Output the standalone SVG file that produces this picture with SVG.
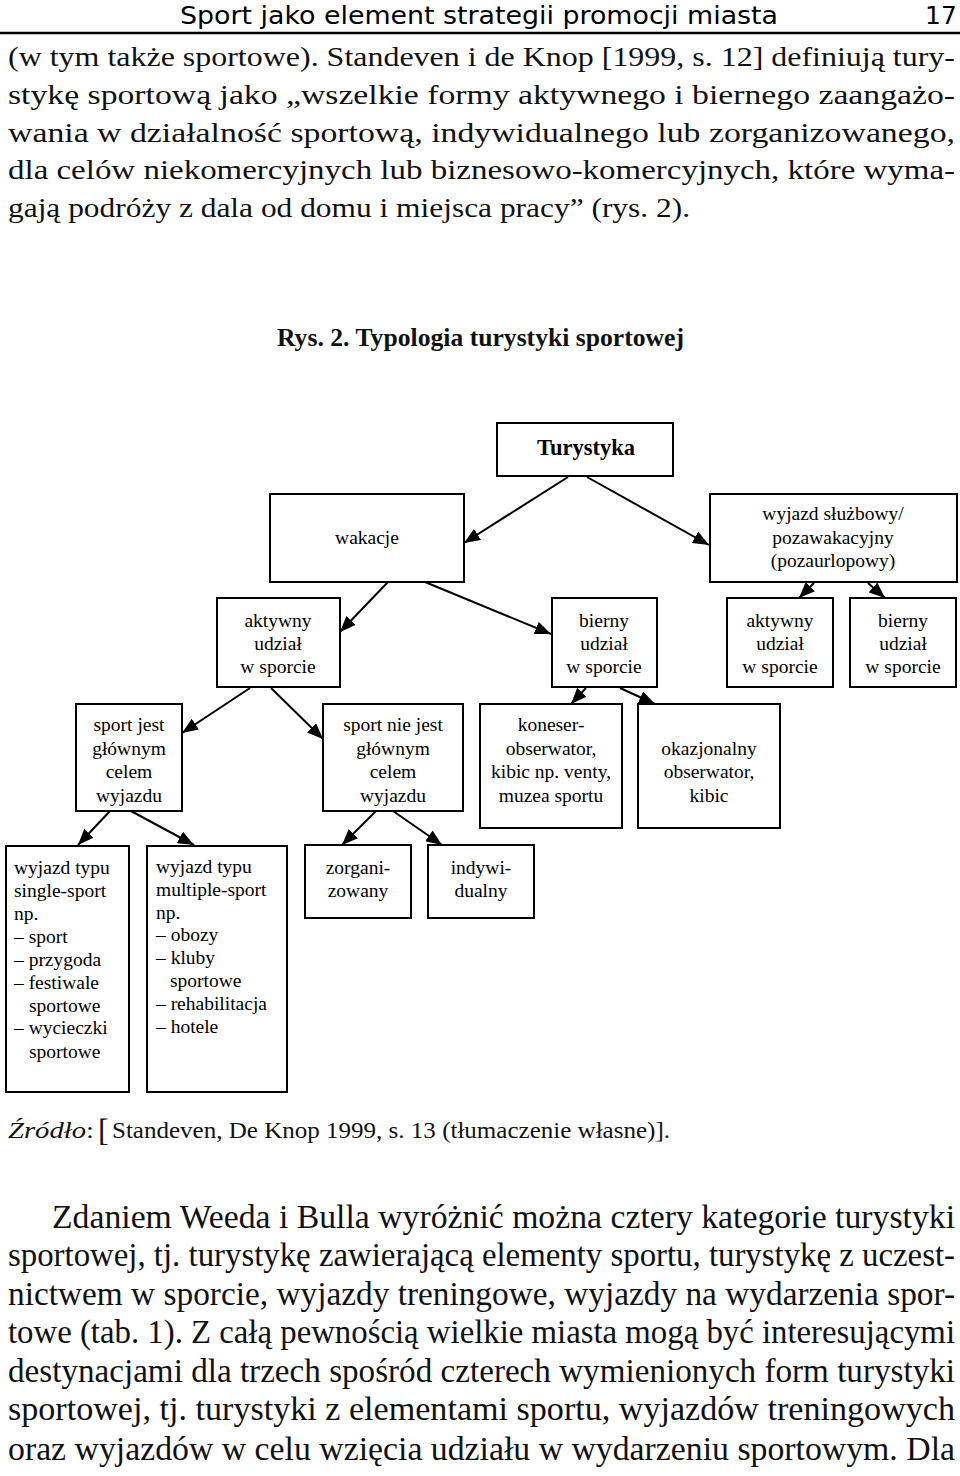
<svg xmlns="http://www.w3.org/2000/svg" width="960" height="1476" viewBox="0 0 960 1476">
<defs>
<marker id="ah" markerUnits="userSpaceOnUse" markerWidth="16" markerHeight="13" viewBox="0 0 16 13" refX="16" refY="6.5" orient="auto"><path d="M0,0 L16,6.5 L0,13 z" fill="#000"/></marker>
<style>
.hd{font-family:"DejaVu Sans",sans-serif;font-size:25px;fill:#000}
.bt{font-family:"Liberation Serif",serif;font-size:27px;fill:#111}
.bb{font-family:"Liberation Serif",serif;font-size:33px;fill:#111}
.tt{font-family:"Liberation Serif",serif;font-size:25px;font-weight:bold;fill:#111}
.src{font-family:"Liberation Serif",serif;font-size:24px;fill:#111}
.box{fill:#fff;stroke:#000;stroke-width:2}
.n{font-family:"Liberation Serif",serif;font-size:19.5px;fill:#000;text-anchor:middle}
.l{font-family:"Liberation Serif",serif;font-size:19.5px;fill:#000}
.c line{stroke:#000;stroke-width:2;marker-end:url(#ah)}
</style>
</defs>
<rect width="960" height="1476" fill="#fff"/>
<text class="hd" x="180" y="24" textLength="598" lengthAdjust="spacingAndGlyphs">Sport jako element strategii promocji miasta</text>
<text class="hd" x="925" y="24">17</text>
<line x1="0" y1="33" x2="960" y2="33" stroke="#000" stroke-width="2.5"/>
<g id="para1">
<text class="bt" x="8" y="66" textLength="947" lengthAdjust="spacingAndGlyphs">(w tym także sportowe). Standeven i de Knop [1999, s. 12] definiują tury-</text>
<text class="bt" x="8" y="104" textLength="947" lengthAdjust="spacingAndGlyphs">stykę sportową jako „wszelkie formy aktywnego i biernego zaangażo-</text>
<text class="bt" x="8" y="142" textLength="947" lengthAdjust="spacingAndGlyphs">wania w działalność sportową, indywidualnego lub zorganizowanego,</text>
<text class="bt" x="8" y="179" textLength="947" lengthAdjust="spacingAndGlyphs">dla celów niekomercyjnych lub biznesowo-komercyjnych, które wyma-</text>
<text class="bt" x="8" y="217" textLength="682" lengthAdjust="spacingAndGlyphs">gają podróży z dala od domu i miejsca pracy” (rys. 2).</text>
</g>
<text class="tt" x="277" y="346" textLength="407" lengthAdjust="spacingAndGlyphs">Rys. 2. Typologia turystyki sportowej</text>
<g class="c" id="connectors">
<line x1="568" y1="477" x2="464" y2="543"/>
<line x1="587" y1="477" x2="709" y2="545"/>
<line x1="388" y1="582" x2="340" y2="632"/>
<line x1="425" y1="582" x2="551" y2="634"/>
<line x1="814" y1="583" x2="799" y2="598"/>
<line x1="868" y1="583" x2="885" y2="598"/>
<line x1="586" y1="688" x2="571" y2="704"/>
<line x1="620" y1="688" x2="655" y2="704"/>
<line x1="250" y1="688" x2="182" y2="733"/>
<line x1="271" y1="688" x2="323" y2="739"/>
<line x1="110" y1="811" x2="78" y2="845"/>
<line x1="131" y1="811" x2="194" y2="845"/>
<line x1="376" y1="811" x2="342" y2="845"/>
<line x1="393" y1="811" x2="442" y2="845"/>
</g>
<g id="turystyka"><rect class="box" x="497" y="423" width="176" height="53"/><text class="n" x="586" y="455" style="font-size:22.5px;font-weight:bold">Turystyka</text></g>
<g id="wakacje"><rect class="box" x="270" y="494" width="194" height="88"/><text class="n" x="367" y="544">wakacje</text></g>
<g id="wyjazd-sluzbowy"><rect class="box" x="710" y="494" width="247" height="88"/><text class="n" x="833" y="520">wyjazd służbowy/</text><text class="n" x="833" y="544">pozawakacyjny</text><text class="n" x="833" y="567">(pozaurlopowy)</text></g>
<g id="aktywny1"><rect class="box" x="217" y="598" width="123" height="89"/><text class="n" x="278" y="627">aktywny</text><text class="n" x="278" y="650">udział</text><text class="n" x="278" y="673">w sporcie</text></g>
<g id="bierny1"><rect class="box" x="552" y="598" width="105" height="89"/><text class="n" x="604" y="627">bierny</text><text class="n" x="604" y="650">udział</text><text class="n" x="604" y="673">w sporcie</text></g>
<g id="aktywny2"><rect class="box" x="727" y="598" width="106" height="89"/><text class="n" x="780" y="627">aktywny</text><text class="n" x="780" y="650">udział</text><text class="n" x="780" y="673">w sporcie</text></g>
<g id="bierny2"><rect class="box" x="850" y="598" width="106" height="89"/><text class="n" x="903" y="627">bierny</text><text class="n" x="903" y="650">udział</text><text class="n" x="903" y="673">w sporcie</text></g>
<g id="sport-jest"><rect class="box" x="76" y="704" width="106" height="107"/><text class="n" x="129" y="731">sport jest</text><text class="n" x="129" y="755">głównym</text><text class="n" x="129" y="778">celem</text><text class="n" x="129" y="802">wyjazdu</text></g>
<g id="sport-nie-jest"><rect class="box" x="323" y="704" width="140" height="107"/><text class="n" x="393" y="731">sport nie jest</text><text class="n" x="393" y="755">głównym</text><text class="n" x="393" y="778">celem</text><text class="n" x="393" y="802">wyjazdu</text></g>
<g id="koneser"><rect class="box" x="480" y="704" width="142" height="124"/><text class="n" x="551" y="731">koneser-</text><text class="n" x="551" y="755">obserwator,</text><text class="n" x="551" y="778">kibic np. venty,</text><text class="n" x="551" y="802">muzea sportu</text></g>
<g id="okazjonalny"><rect class="box" x="638" y="704" width="142" height="124"/><text class="n" x="709" y="755">okazjonalny</text><text class="n" x="709" y="778">obserwator,</text><text class="n" x="709" y="802">kibic</text></g>
<g id="single-sport"><rect class="box" x="6" y="846" width="123" height="246"/>
<text class="l" x="14" y="874">wyjazd typu</text><text class="l" x="14" y="897">single-sport</text><text class="l" x="14" y="920">np.</text><text class="l" x="14" y="943">– sport</text><text class="l" x="14" y="966">– przygoda</text><text class="l" x="14" y="989">– festiwale</text><text class="l" x="29" y="1012">sportowe</text><text class="l" x="14" y="1034">– wycieczki</text><text class="l" x="29" y="1058">sportowe</text></g>
<g id="multiple-sport"><rect class="box" x="147" y="846" width="140" height="246"/>
<text class="l" x="156" y="873">wyjazd typu</text><text class="l" x="156" y="896">multiple-sport</text><text class="l" x="156" y="919">np.</text><text class="l" x="156" y="941">– obozy</text><text class="l" x="156" y="964">– kluby</text><text class="l" x="170" y="987">sportowe</text><text class="l" x="156" y="1010">– rehabilitacja</text><text class="l" x="156" y="1033">– hotele</text></g>
<g id="zorganizowany"><rect class="box" x="305" y="845" width="106" height="73"/><text class="n" x="358" y="874">zorgani-</text><text class="n" x="358" y="897">zowany</text></g>
<g id="indywidualny"><rect class="box" x="428" y="845" width="106" height="73"/><text class="n" x="481" y="874">indywi-</text><text class="n" x="481" y="897">dualny</text></g>
<text class="src" x="8" y="1138" textLength="86" lengthAdjust="spacingAndGlyphs"><tspan font-style="italic">Źródło</tspan>:</text>
<text class="src" x="98" y="1141" style="font-size:32px">[</text>
<text class="src" x="112" y="1138" textLength="558" lengthAdjust="spacingAndGlyphs">Standeven, De Knop 1999, s. 13 (tłumaczenie własne)].</text>
<g id="para2">
<text class="bb" x="52" y="1228" textLength="903" lengthAdjust="spacingAndGlyphs">Zdaniem Weeda i Bulla wyróżnić można cztery kategorie turystyki</text>
<text class="bb" x="8" y="1266" textLength="947" lengthAdjust="spacingAndGlyphs">sportowej, tj. turystykę zawierającą elementy sportu, turystykę z uczest-</text>
<text class="bb" x="8" y="1305" textLength="947" lengthAdjust="spacingAndGlyphs">nictwem w sporcie, wyjazdy treningowe, wyjazdy na wydarzenia spor-</text>
<text class="bb" x="8" y="1343" textLength="947" lengthAdjust="spacingAndGlyphs">towe (tab. 1). Z całą pewnością wielkie miasta mogą być interesującymi</text>
<text class="bb" x="8" y="1382" textLength="947" lengthAdjust="spacingAndGlyphs">destynacjami dla trzech spośród czterech wymienionych form turystyki</text>
<text class="bb" x="8" y="1420" textLength="947" lengthAdjust="spacingAndGlyphs">sportowej, tj. turystyki z elementami sportu, wyjazdów treningowych</text>
<text class="bb" x="8" y="1460" textLength="947" lengthAdjust="spacingAndGlyphs">oraz wyjazdów w celu wzięcia udziału w wydarzeniu sportowym. Dla</text>
</g>
</svg>
